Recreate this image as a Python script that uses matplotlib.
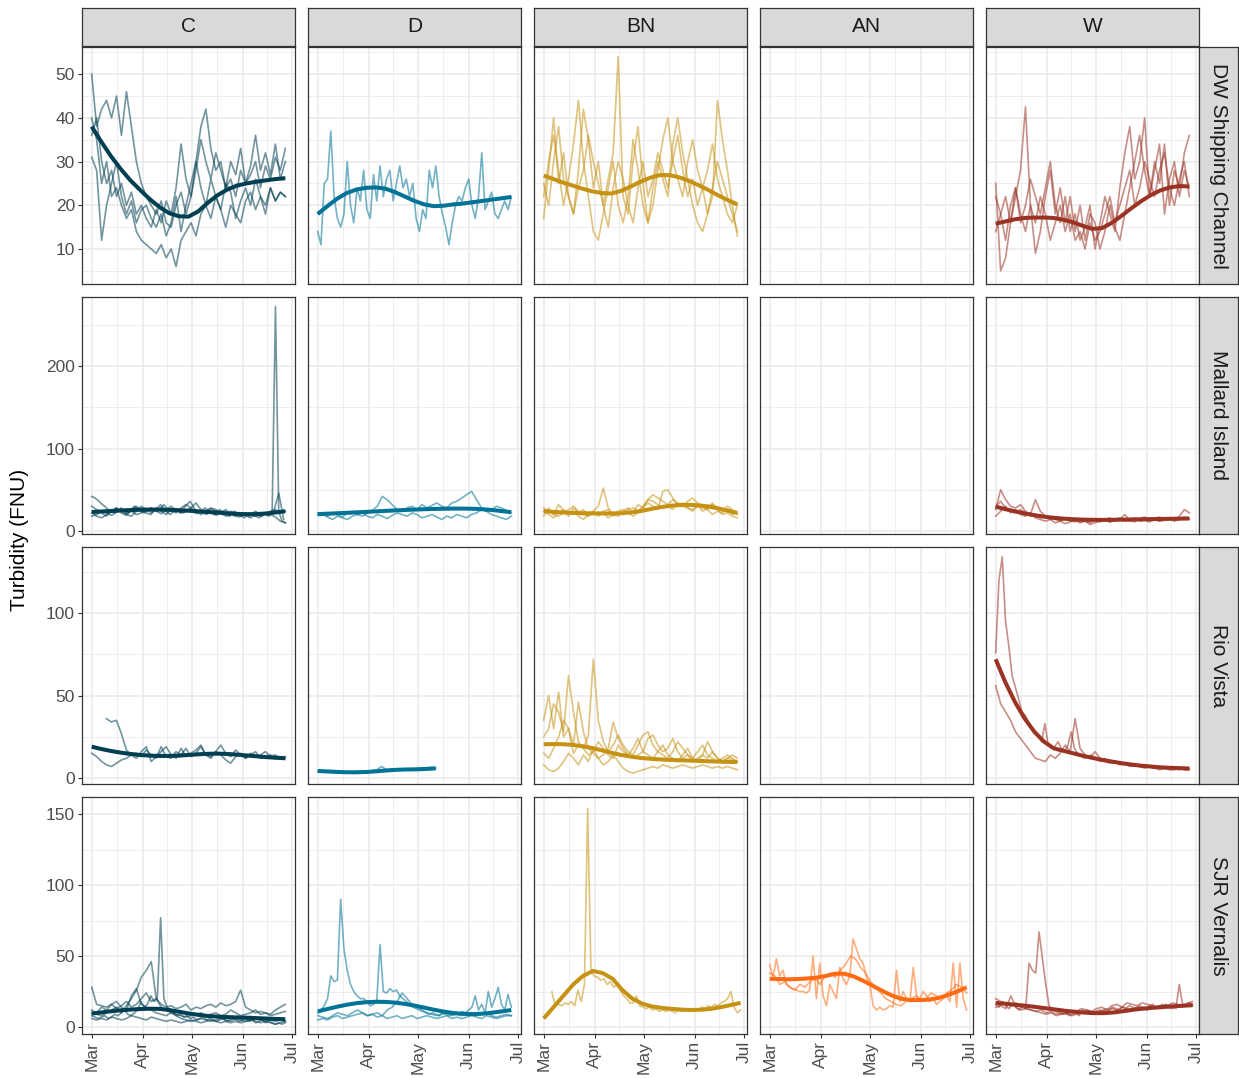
import numpy as np
import matplotlib
matplotlib.use("Agg")
import matplotlib.pyplot as plt

plt.rcParams['font.family'] = ['Liberation Sans', 'DejaVu Sans']

# turbidity by station (rows) and water year type (cols), Mar-Jun, one line per year + smooth
types = ["C", "D", "BN", "AN", "W"]
stations = ["DW Shipping Channel", "Mallard Island", "Rio Vista", "SJR Vernalis"]
colors = ["#003E51", "#007396", "#C69214", "#FF6A13", "#9A3324"]

month_days = [0, 31, 61, 92, 122]
month_labels = ["Mar", "Apr", "May", "Jun", "Jul"]

# ---- DW Shipping Channel ----
dw_C_1 = [50, 38, 42, 44, 40, 45, 36, 46, 38, 30, 25, 22, 20, 18, 21, 16, 15, 20, 23, 18, 22, 30, 38, 42, 33, 28, 30, 24, 26, 22, 28, 25, 27, 30, 24, 29, 26, 31, 28, 33]
dw_C_2 = [31, 28, 12, 20, 25, 30, 22, 18, 21, 16, 19, 20, 17, 15, 18, 13, 16, 22, 14, 20, 25, 30, 24, 20, 26, 22, 19, 25, 23, 17, 21, 24, 20, 26, 22, 18, 24, 21, 23, 22]
dw_C_3 = [40, 35, 25, 30, 22, 24, 20, 17, 19, 14, 12, 11, 10, 9, 11, 8, 10, 6, 12, 14, 16, 13, 18, 20, 17, 22, 19, 15, 20, 18, 16, 21, 23, 19, 22, 20, 24, 21, 23, 22]
dw_C_4 = [36, 40, 30, 25, 28, 22, 25, 20, 23, 18, 20, 17, 15, 19, 16, 21, 18, 24, 34, 26, 22, 28, 35, 30, 26, 32, 28, 24, 30, 27, 33, 25, 29, 36, 28, 32, 27, 34, 26, 30]
dw_C_smooth = [38, 34.5, 31.2, 28.3, 25.7, 23.5, 21.4, 19.6, 18.2, 17.5, 17.4, 18.6, 20.6, 22.3, 23.6, 24.5, 25, 25.4, 25.7, 26, 26.2]

dw_D_1 = [14, 11, 25, 26, 37, 22, 17, 15, 18, 30, 20, 16, 24, 21, 28, 19, 17, 27, 21, 29, 22, 26, 28, 21, 25, 29, 24, 26, 22, 25, 17, 14, 19, 17, 28, 24, 29, 22, 18, 15, 11, 16, 20, 22, 21, 24, 26, 20, 17, 22, 32, 19, 21, 23, 18, 17, 19, 21, 19, 22]
dw_D_smooth = [18, 19.8, 21.5, 22.8, 23.6, 24, 24.1, 23.8, 23, 22, 21, 20.2, 19.8, 19.9, 20.2, 20.4, 20.7, 21, 21.3, 21.6, 21.9]

dw_BN_1 = [17, 28, 40, 25, 32, 22, 18, 28, 42, 35, 24, 30, 20, 26, 32, 54, 22, 18, 30, 38, 25, 16, 20, 28, 35, 40, 30, 26, 22, 30, 35, 28, 24, 18, 22, 44, 35, 28, 20, 13]
dw_BN_2 = [22, 30, 36, 28, 20, 26, 34, 44, 30, 22, 14, 12, 18, 24, 30, 20, 16, 22, 35, 28, 20, 16, 24, 30, 26, 22, 34, 40, 32, 26, 20, 16, 14, 18, 24, 30, 26, 22, 18, 14]
dw_BN_3 = [25, 20, 30, 38, 26, 22, 18, 24, 28, 36, 30, 25, 20, 15, 24, 30, 26, 20, 16, 24, 30, 22, 26, 32, 28, 24, 30, 36, 28, 22, 26, 20, 24, 28, 34, 26, 22, 18, 16, 20]
dw_BN_smooth = [26.8, 26, 25.2, 24.5, 23.8, 23.2, 22.8, 22.7, 23.3, 24.3, 25.4, 26.3, 26.9, 26.9, 26.4, 25.6, 24.6, 23.5, 22.3, 21.2, 20.2]

dw_W_1 = [25, 5, 8, 16, 22, 28, 42.5, 20, 9, 14, 22, 28, 18, 24, 16, 22, 14, 20, 12, 18, 16, 10, 14, 20, 15, 12, 18, 24, 30, 36, 28, 22, 30, 25, 34, 20, 28, 24, 32, 36]
dw_W_2 = [22, 18, 12, 20, 24, 16, 20, 26, 22, 18, 24, 30, 20, 16, 22, 14, 18, 12, 15, 20, 10, 16, 22, 18, 14, 24, 32, 38, 26, 30, 40, 22, 28, 34, 18, 26, 30, 22, 28, 24]
dw_W_3 = [14, 18, 22, 16, 24, 18, 14, 20, 16, 22, 18, 12, 16, 20, 14, 18, 12, 14, 10, 16, 12, 14, 18, 22, 16, 20, 24, 28, 20, 24, 30, 26, 22, 28, 32, 24, 20, 26, 30, 22]
dw_W_smooth = [15.8, 16.3, 16.8, 17.1, 17.2, 17.2, 17.1, 16.7, 16.1, 15.3, 14.6, 14.8, 16, 17.6, 19.3, 20.9, 22.3, 23.4, 24.1, 24.4, 24.3]

# ---- Mallard Island ----
mi_C_1 = [42, 40, 37, 33, 30, 26, 24, 22, 25, 28, 24, 22, 26, 30, 27, 24, 22, 25, 28, 26, 24, 28, 32, 27, 25, 23, 26, 24, 22, 25, 27, 23, 21, 24, 22, 20, 23, 21, 19, 22, 20, 18, 19, 21, 18, 17, 19, 20, 18, 22, 24, 20, 18, 22, 19, 25, 272, 24, 12, 10]
mi_C_2 = [30, 26, 22, 18, 24, 28, 22, 19, 25, 30, 26, 22, 20, 26, 32, 24, 20, 27, 22, 30, 36, 26, 22, 28, 24, 20, 26, 22, 18, 24, 20, 16, 22, 19, 16, 21, 18, 24, 46, 14]
mi_C_3 = [22, 18, 16, 20, 24, 28, 24, 20, 18, 24, 30, 26, 22, 28, 24, 20, 26, 22, 28, 32, 28, 24, 20, 24, 28, 26, 22, 26, 20, 18, 22, 19, 16, 20, 18, 22, 20, 17, 12, 10]
mi_C_4 = [18, 20, 24, 22, 19, 23, 26, 21, 24, 20, 22, 25, 28, 24, 21, 26, 30, 25, 22, 24, 28, 34, 26, 23, 27, 24, 22, 20, 24, 21, 18, 22, 20, 18, 22, 20, 24, 26, 22, 24]
mi_C_smooth = [23, 23.7, 24.3, 24.9, 25.4, 25.8, 26, 26, 25.7, 25.2, 24.6, 23.9, 23.1, 22.3, 21.5, 20.8, 20.4, 20.5, 21.3, 22.5, 24]

mi_D_1 = [19, 21, 18, 22, 20, 17, 22, 24, 20, 18, 22, 25, 30, 42, 38, 32, 26, 24, 28, 30, 26, 32, 28, 31, 34, 30, 28, 34, 36, 40, 44, 48, 38, 28, 24, 26, 30, 28, 25, 22]
mi_D_2 = [22, 20, 17, 14, 18, 16, 14, 18, 20, 22, 18, 16, 20, 18, 15, 19, 22, 20, 18, 22, 20, 16, 18, 20, 17, 14, 18, 16, 20, 18, 16, 20, 22, 26, 24, 20, 18, 16, 14, 18]
mi_D_smooth = [20.5, 21, 21.5, 22, 22.6, 23.2, 23.8, 24.4, 25, 25.5, 26, 26.4, 26.8, 27, 27.2, 27.2, 27, 26.4, 25.5, 24.2, 22.8]

mi_BN_1 = [18, 28, 20, 32, 25, 18, 28, 22, 26, 18, 24, 30, 52, 28, 20, 24, 26, 22, 18, 22, 28, 34, 30, 26, 48, 50, 40, 30, 34, 28, 26, 32, 24, 28, 34, 26, 20, 22, 18, 16]
mi_BN_2 = [24, 20, 16, 22, 26, 20, 24, 18, 14, 20, 24, 18, 22, 16, 20, 18, 24, 28, 22, 32, 28, 38, 36, 32, 28, 30, 26, 34, 30, 28, 24, 30, 28, 26, 20, 24, 22, 26, 20, 22]
mi_BN_3 = [28, 24, 20, 18, 22, 26, 30, 24, 20, 18, 22, 20, 24, 26, 18, 22, 20, 26, 28, 24, 30, 38, 44, 40, 36, 32, 38, 34, 30, 36, 40, 34, 30, 26, 32, 28, 24, 30, 26, 20]
mi_BN_smooth = [24, 23.2, 22.5, 22, 21.6, 21.4, 21.3, 21.3, 21.6, 22.5, 24.2, 26.5, 28.8, 30.5, 31.5, 31.8, 31.2, 29.8, 27.5, 24.8, 22]

mi_W_1 = [26, 50, 38, 30, 28, 32, 24, 20, 38, 24, 18, 16, 14, 12, 15, 13, 11, 14, 12, 10, 13, 11, 14, 16, 12, 14, 20, 13, 11, 15, 17, 13, 15, 12, 14, 16, 13, 18, 26, 22]
mi_W_2 = [18, 24, 30, 22, 26, 20, 18, 22, 16, 14, 12, 14, 10, 12, 9, 11, 13, 10, 12, 8, 10, 12, 14, 11, 13, 15, 12, 14, 16, 12, 13, 11, 14, 12, 13, 15, 12, 14, 16, 14]
mi_W_3 = [30, 36, 28, 24, 22, 26, 22, 18, 20, 16, 18, 14, 16, 13, 15, 12, 14, 11, 13, 12, 14, 12, 13, 11, 14, 16, 13, 12, 15, 14, 16, 13, 15, 17, 14, 16, 15, 14, 17, 15]
mi_W_smooth = [29.5, 26.5, 23.8, 21.3, 19.2, 17.4, 16, 15, 14.3, 13.8, 13.6, 13.5, 13.6, 13.8, 14, 14.2, 14.4, 14.6, 14.8, 15, 15.2]

# ---- Rio Vista ----
rv_C_1 = [36, 34, 35, 27, 17, 14, 15, 13, 17, 14, 12, 19, 13, 12, 16, 14, 18, 13, 15, 19, 14, 13, 16, 20, 15, 13, 17, 14, 12, 15, 13, 14, 16, 13, 14, 12, 13]
rv_C_2 = [15, 13, 10, 8, 7, 9, 11, 12, 14, 12, 16, 19, 10, 13, 16, 19, 14, 12, 18, 13, 15, 17, 20, 14, 12, 16, 14, 11, 9, 13, 15, 12, 14, 16, 12, 13, 14, 12, 13, 12]
rv_C_smooth = [19, 17.6, 16.4, 15.4, 14.6, 14, 13.6, 13.4, 13.4, 13.6, 14, 14.4, 14.7, 14.8, 14.6, 14.2, 13.7, 13.2, 12.7, 12.3, 12]

rv_D_1 = [4, 4.5, 4, 3.5, 3, 3.5, 3, 3.5, 4, 3.5, 4, 4.5, 5, 7, 5, 5.5, 5, 5, 5.5, 5, 5.5, 6, 6, 6.5, 6]
rv_D_smooth = [4.3, 4, 3.7, 3.5, 3.5, 3.7, 4.1, 4.6, 5, 5.2, 5.3, 5.5, 5.9]

rv_BN_1 = [35, 50, 30, 52, 25, 30, 15, 20, 18, 14, 16, 22, 18, 14, 12, 20, 16, 14, 18, 24, 16, 14, 12, 16, 20, 14, 12, 10, 14, 18, 12, 10, 14, 12, 16, 12, 10, 12, 14, 12]
rv_BN_2 = [25, 30, 45, 40, 28, 62, 40, 22, 18, 26, 72, 35, 22, 16, 20, 26, 20, 16, 14, 20, 26, 28, 20, 16, 14, 12, 16, 22, 18, 14, 12, 16, 20, 14, 12, 10, 12, 14, 12, 10]
rv_BN_3 = [15, 12, 18, 25, 35, 30, 20, 46, 28, 18, 15, 12, 14, 18, 34, 24, 18, 14, 12, 14, 16, 24, 26, 20, 16, 18, 24, 16, 12, 14, 10, 12, 14, 22, 16, 12, 10, 12, 11, 10]
rv_BN_4 = [8, 5, 4, 6, 10, 15, 12, 8, 14, 10, 18, 12, 8, 10, 14, 10, 6, 4, 3, 4, 5, 6, 7, 6, 8, 7, 6, 7, 8, 7, 6, 7, 8, 7, 6, 7, 6, 7, 6, 5]
rv_BN_smooth = [20.5, 20.6, 20.5, 20.1, 19.3, 18.2, 16.8, 15.3, 14, 13, 12.2, 11.7, 11.3, 11, 10.8, 10.6, 10.4, 10.2, 10, 9.8, 9.7]

rv_W_1 = [76, 120, 134, 95, 80, 62, 55, 48, 40, 38, 34, 30, 28, 25, 22, 33, 20, 18, 19, 22, 18, 16, 20, 28, 18, 15, 14, 12, 13, 14, 12, 11, 10, 12, 11, 10, 9, 10, 9, 8, 9, 8, 7, 8, 7, 7, 8, 7, 6, 7, 6, 7, 6, 6, 7, 6, 5, 6, 5, 6]
rv_W_2 = [56, 45, 40, 35, 28, 24, 20, 16, 12, 11, 10, 14, 12, 15, 20, 16, 36, 18, 14, 12, 16, 12, 10, 9, 10, 8, 9, 7, 8, 7, 6, 7, 6, 5, 6, 5, 5, 6, 5, 5]
rv_W_smooth = [72, 58, 46, 36, 28, 22, 18, 16.5, 15, 13.5, 12.2, 11, 10, 9, 8.2, 7.5, 7, 6.5, 6.2, 6, 5.8]

# ---- SJR Vernalis ----
sjr_C_1 = [8, 7, 6, 7, 8, 6, 7, 9, 8, 10, 12, 9, 8, 10, 12, 18, 14, 16, 22, 18, 20, 77, 20, 14, 12, 10, 8, 9, 7, 8, 6, 7, 5, 6, 7, 5, 6, 5, 4, 5, 6, 4, 5, 6, 5, 4, 5, 6, 4, 5, 3, 4, 5, 3, 4, 3, 2, 3, 2, 3]
sjr_C_2 = [10, 9, 8, 10, 12, 14, 10, 15, 20, 26, 35, 40, 46, 20, 14, 12, 10, 8, 6, 5, 4, 5, 6, 5, 4, 5, 6, 5, 4, 6, 5, 4, 5, 6, 5, 4, 5, 4, 5, 4]
sjr_C_3 = [28, 16, 15, 14, 16, 13, 15, 18, 14, 16, 20, 24, 18, 20, 16, 14, 15, 13, 14, 16, 12, 14, 13, 15, 16, 14, 17, 15, 16, 18, 26, 14, 12, 10, 11, 10, 9, 12, 14, 16]
sjr_C_4 = [12, 10, 14, 12, 16, 18, 14, 12, 22, 27, 16, 14, 12, 10, 9, 8, 10, 9, 8, 7, 8, 9, 10, 8, 9, 10, 8, 9, 12, 10, 8, 9, 10, 12, 9, 10, 8, 9, 10, 11]
sjr_C_5 = [6, 5, 6, 5, 7, 6, 5, 6, 8, 7, 6, 5, 7, 6, 5, 4, 5, 4, 3, 4, 5, 4, 3, 4, 5, 4, 3, 4, 3, 4, 3, 4, 5, 4, 3, 4, 3, 2, 3, 4]
sjr_C_smooth = [9.5, 10.3, 11.1, 11.8, 12.3, 12.7, 12.9, 12.8, 12, 10.8, 9.6, 8.6, 7.8, 7.3, 7, 6.8, 6.6, 6.3, 6, 5.7, 5.5]

sjr_D_1 = [10, 12, 15, 20, 36, 32, 33, 90, 55, 40, 30, 25, 22, 20, 20, 18, 15, 16, 18, 58, 25, 24, 27, 25, 26, 22, 20, 18, 16, 14, 13, 12, 11, 10, 9, 10, 9, 8, 10, 9, 8, 9, 10, 9, 11, 10, 12, 14, 22, 12, 16, 10, 25, 14, 20, 28, 16, 12, 23, 14]
sjr_D_2 = [8, 7, 6, 8, 10, 9, 8, 10, 12, 10, 8, 9, 10, 8, 12, 14, 18, 24, 20, 16, 14, 12, 10, 9, 8, 9, 10, 8, 9, 8, 10, 9, 8, 9, 10, 8, 7, 8, 9, 8]
sjr_D_3 = [5, 6, 5, 7, 8, 6, 7, 8, 9, 10, 8, 9, 7, 8, 6, 7, 8, 6, 7, 8, 6, 7, 8, 7, 6, 7, 8, 6, 7, 6, 7, 8, 7, 6, 8, 7, 6, 7, 8, 8]
sjr_D_smooth = [11, 12.7, 14.3, 15.7, 16.8, 17.5, 17.8, 17.7, 17.2, 16.3, 15.1, 13.7, 12.2, 10.9, 9.9, 9.3, 9.1, 9.4, 10.1, 11, 12]

sjr_BN_1 = [25, 15, 16, 15, 17, 16, 18, 15, 26, 18, 30, 154, 40, 36, 35, 33, 34, 30, 32, 28, 30, 26, 22, 20, 17, 17, 22, 15, 14, 13, 14, 12, 13, 11, 12, 11, 12, 11, 10, 12, 11, 12, 11, 12, 13, 12, 14, 13, 15, 14, 16, 15, 17, 18, 20, 25, 14, 10, 12]
sjr_BN_smooth = [6, 14, 22, 30, 36, 39.5, 38, 34, 26, 20, 16.5, 14.5, 13.5, 12.8, 12.3, 12, 12.2, 12.8, 14, 15.5, 17]

sjr_AN_1 = [44, 35, 48, 36, 40, 30, 28, 27, 26, 25, 25, 24, 26, 50, 20, 45, 22, 15, 30, 25, 20, 42, 34, 30, 36, 62, 55, 48, 45, 35, 30, 15, 12, 14, 12, 13, 15, 14, 40, 18, 25, 20, 18, 42, 22, 20, 25, 22, 18, 20, 16, 18, 20, 22, 18, 45, 14, 45, 20, 12]
sjr_AN_2 = [38, 36, 30, 32, 28, 26, 30, 28, 32, 34, 30, 36, 38, 35, 40, 44, 50, 48, 42, 38, 32, 28, 24, 20, 18, 16, 15, 18, 20, 22, 18, 20, 24, 22, 20, 24, 26, 30, 28, 24]
sjr_AN_smooth = [34, 33.8, 33.6, 33.8, 34.2, 34.8, 36, 37.6, 37.5, 35.5, 32.5, 29, 25.5, 22.3, 20, 19, 19, 19.3, 20.5, 22.5, 25, 28]

sjr_W_1 = [16, 14, 18, 15, 13, 16, 14, 12, 15, 13, 45, 40, 38, 67, 48, 30, 15, 12, 11, 10, 9, 10, 8, 9, 10, 8, 12, 10, 9, 10, 11, 12, 11, 13, 12, 14, 13, 12, 14, 13, 15, 14, 13, 15, 14, 13, 15, 16, 14, 15, 13, 16, 14, 15, 13, 30, 16, 15, 17, 16]
sjr_W_2 = [20, 18, 16, 15, 17, 14, 13, 12, 11, 10, 9, 10, 8, 9, 10, 8, 9, 10, 12, 11, 13, 14, 12, 15, 16, 14, 17, 16, 15, 17, 16, 15, 14, 16, 15, 17, 16, 15, 17, 18]
sjr_W_3 = [14, 15, 13, 22, 14, 12, 13, 12, 11, 12, 10, 11, 9, 10, 9, 10, 11, 13, 12, 11, 10, 12, 11, 13, 12, 14, 13, 12, 14, 13, 12, 14, 13, 15, 14, 13, 15, 14, 16, 15]
sjr_W_smooth = [17, 16.4, 15.7, 15, 14.2, 13.3, 12.4, 11.5, 10.8, 10.2, 9.8, 9.8, 10.3, 11.2, 12.2, 13, 13.6, 14.1, 14.6, 15, 15.4]

# (row, col): list of (values, first day, last day) for yearly lines, then the smooth
panels = {
    (0, 0): ([(dw_C_1, 0, 118), (dw_C_2, 0, 118), (dw_C_3, 0, 118), (dw_C_4, 0, 118)], (dw_C_smooth, 0, 118)),
    (0, 1): ([(dw_D_1, 0, 118)], (dw_D_smooth, 0, 118)),
    (0, 2): ([(dw_BN_1, 0, 118), (dw_BN_2, 0, 118), (dw_BN_3, 0, 118)], (dw_BN_smooth, 0, 118)),
    (0, 4): ([(dw_W_1, 0, 118), (dw_W_2, 0, 118), (dw_W_3, 0, 118)], (dw_W_smooth, 0, 118)),
    (1, 0): ([(mi_C_1, 0, 118), (mi_C_2, 0, 117), (mi_C_3, 0, 118), (mi_C_4, 0, 118)], (mi_C_smooth, 0, 118)),
    (1, 1): ([(mi_D_1, 0, 118), (mi_D_2, 0, 118)], (mi_D_smooth, 0, 118)),
    (1, 2): ([(mi_BN_1, 0, 118), (mi_BN_2, 0, 118), (mi_BN_3, 0, 118)], (mi_BN_smooth, 0, 118)),
    (1, 4): ([(mi_W_1, 0, 118), (mi_W_2, 0, 118), (mi_W_3, 0, 118)], (mi_W_smooth, 0, 118)),
    (2, 0): ([(rv_C_1, 9, 118), (rv_C_2, 0, 118)], (rv_C_smooth, 0, 118)),
    (2, 1): ([(rv_D_1, 0, 72)], (rv_D_smooth, 0, 72)),
    (2, 2): ([(rv_BN_1, 0, 118), (rv_BN_2, 0, 118), (rv_BN_3, 0, 118), (rv_BN_4, 0, 118)], (rv_BN_smooth, 0, 118)),
    (2, 4): ([(rv_W_1, 0, 118), (rv_W_2, 0, 118)], (rv_W_smooth, 0, 118)),
    (3, 0): ([(sjr_C_1, 0, 118), (sjr_C_2, 0, 118), (sjr_C_3, 0, 118), (sjr_C_4, 0, 118), (sjr_C_5, 0, 118)], (sjr_C_smooth, 0, 118)),
    (3, 1): ([(sjr_D_1, 0, 118), (sjr_D_2, 0, 118), (sjr_D_3, 0, 118)], (sjr_D_smooth, 0, 118)),
    (3, 2): ([(sjr_BN_1, 5, 120)], (sjr_BN_smooth, 0, 120)),
    (3, 3): ([(sjr_AN_1, 0, 120), (sjr_AN_2, 0, 120)], (sjr_AN_smooth, 0, 120)),
    (3, 4): ([(sjr_W_1, 0, 120), (sjr_W_2, 0, 120), (sjr_W_3, 0, 120)], (sjr_W_smooth, 0, 120)),
}

row_ylim = [(2, 56.2), (-3.6, 283.6), (-3.6, 140), (-4.9, 162)]
row_ticks = [[10, 20, 30, 40, 50], [0, 100, 200], [0, 50, 100], [0, 50, 100, 150]]
row_minor = [[5, 15, 25, 35, 45, 55], [50, 150, 250], [25, 75, 125], [25, 75, 125]]

W, H = 1239, 1078
fig = plt.figure(figsize=(W / 100, H / 100), dpi=100)
col_left = [82, 308, 534, 760, 986]
row_top = [47, 297, 547, 797]
pw, ph = 213, 237
grid_c = "#EBEBEB"
edge_c = "#333333"


def days(a, b, n):
    return np.linspace(a, b, n)


def strip(rect, label, rot):
    st = fig.add_axes(rect)
    st.set_facecolor("#D9D9D9")
    st.set_xticks([])
    st.set_yticks([])
    for s in st.spines.values():
        s.set_color(edge_c)
        s.set_linewidth(0.9)
    st.text(0.5, 0.5, label, ha="center", va="center", rotation=rot,
            fontsize=15, color="#1A1A1A")


for r in range(4):
    for c in range(5):
        ax = fig.add_axes([col_left[c] / W, 1 - (row_top[r] + ph) / H, pw / W, ph / H])
        ax.set_xlim(-5.9, 123.9)
        ax.set_ylim(*row_ylim[r])
        ax.set_xticks(month_days)
        ax.set_xticks([15.5, 46, 76.5, 107], minor=True)
        ax.set_yticks(row_ticks[r])
        ax.set_yticks(row_minor[r], minor=True)
        ax.grid(True, which="major", color=grid_c, lw=1.2, zorder=0)
        ax.grid(True, which="minor", color=grid_c, lw=0.6, zorder=0)
        ax.tick_params(which="minor", length=0)
        ax.tick_params(which="major", length=3, width=0.8, color=edge_c,
                       labelsize=12.5, labelcolor="#4D4D4D", pad=2)
        for s in ax.spines.values():
            s.set_color(edge_c)
            s.set_linewidth(0.9)
        if r == 3:
            ax.set_xticklabels(month_labels, rotation=90)
        else:
            ax.tick_params(axis="x", length=0, labelbottom=False)
        if c != 0:
            ax.tick_params(axis="y", length=0, labelleft=False)

        if (r, c) in panels:
            lines, smooth = panels[(r, c)]
            for vals, a, b in lines:
                ax.plot(days(a, b, len(vals)), vals, color=colors[c], alpha=0.55, lw=1.2, zorder=2)
            sv, a, b = smooth
            ax.plot(days(a, b, len(sv)), sv, color=colors[c], lw=2.9, zorder=3,
                    solid_capstyle="butt")

        if r == 0:
            strip([col_left[c] / W, 1 - 46 / H, pw / W, 38 / H], types[c], 0)
        if c == 4:
            strip([1199 / W, 1 - (row_top[r] + ph) / H, 39 / W, ph / H], stations[r], -90)

fig.text(20 / W, 1 - 540 / H, "Turbidity (FNU)", rotation=90, ha="center", va="center", fontsize=15)

fig.savefig("out.png", dpi=100)
